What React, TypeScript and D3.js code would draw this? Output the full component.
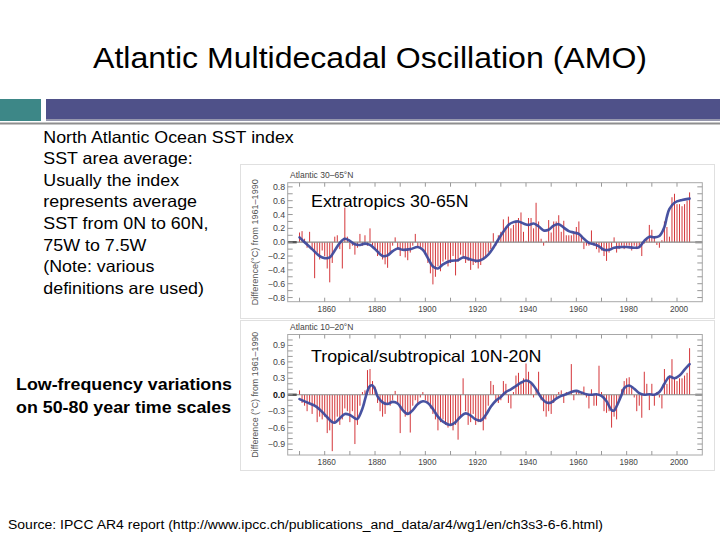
import React from 'react';
import * as d3 from 'd3';

// ---------- data ----------
const startYear = 1850;
const endYear = 2005;

// Atlantic 30-65N annual anomalies (°C, from 1961-1990), 1850..2005
const extraValues = [
  0.14, 0.16, 0.05, -0.08, 0.15, -0.1, -0.52, -0.15, -0.25, -0.12,
  -0.2, -0.38, -0.58, -0.3, 0.08, 0.1, -0.1, -0.38, 0.5, 0.08,
  -0.1, -0.05, -0.18, -0.08, 0.12, -0.05, 0.1, -0.05, 0.2, -0.05,
  -0.1, -0.2, -0.15, -0.25, -0.32, -0.37, -0.15, -0.05, 0.07, -0.1,
  -0.2, -0.12, -0.22, -0.26, -0.15, -0.05, 0.12, -0.08, -0.1, -0.08,
  -0.18, -0.3, -0.45, -0.61, -0.5, -0.35, -0.42, -0.28, -0.25, -0.35,
  -0.3, -0.2, -0.48, -0.28, -0.18, -0.22, -0.3, -0.27, -0.4, -0.33,
  -0.3, -0.38, -0.33, -0.25, -0.2, -0.15, -0.1, 0.13, -0.05, 0.1,
  0.15, 0.33, 0.22, 0.37, 0.2, 0.25, 0.3, 0.35, 0.43, 0.15,
  0.02, 0.35, 0.35, 0.2, 0.57, 0.3, 0.05, -0.05, 0.02, 0.32,
  0.14, 0.3, 0.3, 0.39, 0.15, 0.31, 0.1, 0.1, 0.1, 0.15,
  0.22, 0.3, 0.1, -0.1, -0.05, -0.05, 0.17, -0.05, -0.1, -0.15,
  -0.12, -0.2, -0.27, -0.15, -0.08, 0.07, -0.15, -0.1, -0.05, -0.1,
  -0.05, -0.05, -0.12, -0.05, -0.1, -0.08, -0.2, -0.02, 0.05, 0.25,
  0.18, 0.08, -0.04, -0.08, 0.03, 0.3, 0.22, 0.08, 0.65, 0.7,
  0.55, 0.55, 0.52, 0.55, 0.6, 0.72,
];

// Atlantic 10-20N annual anomalies, 1850..2005
const tropValues = [
  0.08, -0.15, -0.2, -0.3, -0.15, -0.35, -0.2, -0.5, -0.4, -0.45,
  -0.4, -0.7, -0.65, -1.03, -0.5, -0.4, -0.55, -0.45, -0.25, -0.3,
  -0.5, -0.3, -0.9, -0.55, -0.2, 0.05, 0.08, 0.45, 0.47, 0.25,
  0.15, -0.15, -0.3, -0.4, -0.35, -0.15, -0.2, -0.1, 0.07, -0.15,
  -0.7, -0.3, -0.4, -0.35, -0.69, -0.2, -0.1, -0.15, -0.05, 0.05,
  -0.1, -0.15, -0.25, -0.35, -0.45, -0.65, -0.5, -0.45, -0.55, -0.6,
  -0.55, -0.65, -0.55, -0.82, -0.4, 0.3, -0.3, -0.55, -0.5, -0.35,
  -0.55, -0.5, -0.5, -0.65, -0.45, -0.2, 0.25, 0.18, -0.1, -0.15,
  -0.1, 0.25, 0.2, -0.15, -0.25, 0.05, 0.35, 0.4, 0.2, 0.3,
  0.57, 0.42, 0.2, -0.05, 0.1, 0.42, -0.1, -0.3, -0.4, -0.3,
  -0.35, -0.15, -0.05, 0.05, 0.08, -0.15, 0.05, 0.02, 0.56, -0.1,
  0.05, 0.05, 0.05, 0.15, -0.05, -0.25, 0.1, -0.2, -0.2, 0.53,
  0.05, -0.3, -0.33, -0.3, -0.6, -0.4, -0.45, -0.1, 0.1, 0.25,
  0.3, 0.32, 0.15, -0.05, -0.3, -0.2, -0.42, 0.42, 0.2, -0.28,
  0.2, -0.2, 0.05, -0.05, -0.25, 0.47, 0.2, 0.35, 0.65, 0.3,
  0.25, 0.3, 0.3, 0.35, 0.4, 0.85,
];

// decadal smoothed curves
const extraSmoothYears = [
  1850, 1852, 1855, 1858, 1860, 1862, 1864, 1866, 1868, 1870, 1872, 1874, 1876, 1878,
  1880, 1883, 1885, 1887, 1889, 1891, 1894, 1897, 1899, 1901, 1903, 1905, 1907, 1910,
  1913, 1915, 1918, 1921, 1923, 1925, 1927, 1929, 1931, 1933, 1935, 1937, 1939, 1941,
  1943, 1945, 1947, 1949, 1951, 1953, 1955, 1957, 1959, 1961, 1963, 1965, 1967, 1969,
  1971, 1973, 1975, 1978, 1980, 1983, 1985, 1987, 1989, 1991, 1993, 1995, 1996, 1997,
  1999, 2002, 2005,
];
const extraSmoothValues = [
  0.07, 0.0, -0.1, -0.2, -0.23, -0.22, -0.12, -0.01, 0.05, 0.02, -0.03, -0.04, -0.02, -0.04,
  -0.1, -0.2, -0.19, -0.13, -0.09, -0.11, -0.1, -0.07, -0.11, -0.23, -0.35, -0.38, -0.32, -0.27,
  -0.26, -0.22, -0.25, -0.27, -0.24, -0.18, -0.08, 0.04, 0.15, 0.25, 0.29, 0.3, 0.27, 0.25,
  0.27, 0.23, 0.17, 0.18, 0.24, 0.26, 0.21, 0.16, 0.14, 0.12, 0.05, -0.01, -0.03, -0.06,
  -0.11, -0.11, -0.08, -0.07, -0.07, -0.08, -0.07, 0.02, 0.08, 0.07, 0.09, 0.22, 0.37, 0.48,
  0.57, 0.61, 0.63,
];

const tropSmoothYears = [
  1850, 1853, 1856, 1858, 1861, 1863, 1864, 1866, 1868, 1870, 1872, 1873, 1875, 1876,
  1877, 1878, 1879, 1880, 1881, 1883, 1885, 1887, 1889, 1891, 1893, 1895, 1897, 1899,
  1901, 1903, 1905, 1907, 1910, 1912, 1914, 1916, 1918, 1920, 1922, 1924, 1926, 1928,
  1930, 1932, 1934, 1936, 1938, 1940, 1942, 1944, 1946, 1948, 1950, 1952, 1954, 1956,
  1958, 1960, 1962, 1964, 1966, 1968, 1970, 1972, 1974, 1975, 1976, 1978, 1979, 1981,
  1983, 1985, 1987, 1989, 1991, 1993, 1995, 1997, 1999, 2001, 2003, 2005,
];
const tropSmoothValues = [
  -0.08, -0.14, -0.2, -0.27, -0.41, -0.5, -0.51, -0.43, -0.35, -0.37, -0.43, -0.44, -0.25, -0.09,
  0.07, 0.16, 0.17, 0.1, -0.03, -0.14, -0.17, -0.13, -0.16, -0.28, -0.35, -0.28, -0.17, -0.12,
  -0.15, -0.26, -0.4, -0.49, -0.55, -0.5, -0.4, -0.34, -0.38, -0.45, -0.47, -0.37, -0.22, -0.11,
  -0.04, 0.05, 0.1, 0.16, 0.22, 0.26, 0.22, 0.1, -0.05, -0.14, -0.14, -0.07, -0.02, 0.01,
  0.05, 0.07, 0.04, 0.01, 0.0, 0.01, -0.02, -0.12, -0.28, -0.29, -0.21, 0.0, 0.12, 0.17,
  0.11, 0.03, 0.0, 0.01, 0.0, 0.05, 0.2, 0.33, 0.3, 0.35, 0.46, 0.56,
];

const extraYTicks = [0.8, 0.6, 0.4, 0.2, 0.0, -0.2, -0.4, -0.6, -0.8];
const tropYTicks = [0.9, 0.6, 0.3, 0.0, -0.3, -0.6, -0.9];
const xTickLabels = [1860, 1880, 1900, 1920, 1940, 1960, 1980, 2000];

const titleText = 'Atlantic Multidecadal Oscillation (AMO)';
const bulletLines = [
  'North Atlantic Ocean SST index',
  'SST area average:',
  'Usually the index',
  'represents average',
  'SST from 0N to 60N,',
  '75W to 7.5W',
  '(Note: various',
  'definitions are used)',
];
const boldLines = ['Low-frequency variations', 'on 50-80 year time scales'];
const sourceText =
  'Source: IPCC AR4 report (http://www.ipcc.ch/publications_and_data/ar4/wg1/en/ch3s3-6-6.html)';

// ---------- layout ----------
const FONT = "'Liberation Sans', Arial, Helvetica, sans-serif";
const SX = 1.095; // horizontal stretch of the slide text

const years = d3.range(startYear, endYear + 1);
const x = d3.scaleLinear().domain([1860, 2000]).range([324.7, 677]);
const plotLeft = 287.7;
const plotRight = 702.3;

type PanelProps = {
  values: number[];
  smoothYears: number[];
  smoothValues: number[];
  yDomain: [number, number];
  yRange: [number, number];
  yTicks: number[];
  minorStep: number;
  minorMax: number;
  title: string;
  yTitle: string;
  boldZero: boolean;
  label: string;
  labelY: number;
  frame: [number, number];
};

function Panel(p: PanelProps) {
  const y = d3.scaleLinear().domain(p.yDomain).range(p.yRange);
  const top = p.yRange[1];
  const bottom = p.yRange[0];
  const y0 = y(0);
  const line = d3
    .line<number>()
    .x((_, i) => x(p.smoothYears[i]))
    .y((d) => y(d))
    .curve(d3.curveCatmullRom.alpha(0.5));
  const minor = d3.range(-p.minorMax, p.minorMax + 1e-9, p.minorStep);
  const xTicks = d3.range(1850, 2001, 10);
  return (
    <g>
      <rect x={240.5} y={p.frame[0]} width={474} height={p.frame[1] - p.frame[0]} fill="#fff" stroke="#e0e0e0" />
      <text x={290} y={top - 5} fontSize={8.5} fill="#444" fontFamily={FONT}>
        {p.title}
      </text>
      <text
        transform={`translate(258,${(top + bottom) / 2}) rotate(-90)`}
        textAnchor="middle"
        fontSize={8.3}
        fill="#555"
        fontFamily={FONT}
        textLength={126}
        lengthAdjust="spacingAndGlyphs"
      >
        {p.yTitle}
      </text>
      {/* bars */}
      {p.values.map((v, i) => {
        const yy = y(v);
        return (
          <rect
            key={i}
            x={x(years[i]) - 0.5}
            width={1}
            y={Math.min(yy, y0)}
            height={Math.abs(yy - y0)}
            fill="#d4363a"
          />
        );
      })}
      {/* zero line */}
      <line x1={plotLeft} x2={plotRight} y1={y0} y2={y0} stroke="#8a8a8a" strokeWidth={1.2} />
      <line x1={plotLeft} x2={plotLeft + 9} y1={y0} y2={y0} stroke="#555" strokeWidth={2.4} />
      <line x1={plotRight - 7} x2={plotRight} y1={y0} y2={y0} stroke="#999" strokeWidth={2.4} />
      {/* smooth curve */}
      <path
        d={line(p.smoothValues) || ''}
        fill="none"
        stroke="#3e4a9c"
        strokeWidth={2.6}
        strokeLinejoin="round"
        strokeLinecap="round"
        opacity={0.95}
      />
      <rect x={plotLeft} y={top} width={plotRight - plotLeft} height={bottom - top} fill="none" stroke="#a8a8a8" strokeWidth={1} />
      {minor.map((t, i) => (
        <g key={'m' + i}>
          <line x1={plotLeft} x2={plotLeft + 5} y1={y(t)} y2={y(t)} stroke="#999" />
          <line x1={plotRight - 5} x2={plotRight} y1={y(t)} y2={y(t)} stroke="#999" />
        </g>
      ))}
      {xTicks.map((t) => (
        <g key={'x' + t}>
          <line x1={x(t)} x2={x(t)} y1={bottom} y2={bottom - 4} stroke="#999" />
          <line x1={x(t)} x2={x(t)} y1={top} y2={top + 4} stroke="#999" />
        </g>
      ))}
      {p.yTicks.map((t) => (
        <text
          key={'yl' + t}
          x={plotLeft - 2.5}
          y={y(t) + 3}
          textAnchor="end"
          fontSize={8.8}
          fill={t === 0 && p.boldZero ? '#111' : '#444'}
          fontWeight={t === 0 && p.boldZero ? 'bold' : 'normal'}
          fontFamily={FONT}
        >
          {t < 0 ? '\u2212' + d3.format('.1f')(-t) : d3.format('.1f')(t)}
        </text>
      ))}
      {xTickLabels.map((t) => (
        <text key={'xl' + t} x={x(t) + 2} y={bottom + 10} textAnchor="middle" fontSize={8.2} fill="#444" fontFamily={FONT}>
          {t}
        </text>
      ))}
      <text
        transform={`translate(311,${p.labelY}) scale(${SX},1)`}
        fontSize={16.3}
        fill="#000"
        fontFamily={FONT}
      >
        {p.label}
      </text>
    </g>
  );
}

export default function App() {
  return (
    <svg
      width={720}
      height={540}
      viewBox="0 0 720 540"
      style={{ position: 'absolute', left: 0, top: 0, background: '#fff' }}
    >
      <rect x={0} y={0} width={720} height={540} fill="#fff" />
      <text
        x={370}
        y={68}
        textAnchor="middle"
        fontSize={29}
        fontFamily={FONT}
        fill="#000"
        textLength={554}
        lengthAdjust="spacingAndGlyphs"
      >
        {titleText}
      </text>
      <rect x={0} y={99} width={41} height={22} fill="#3d8787" />
      <rect x={46} y={99} width={674} height={20} fill="#4f5189" />
      <rect x={46} y={119} width={674} height={2} fill="#9697ad" />
      <rect x={0} y={122.5} width={720} height={2} fill="#8e8e8e" />

      {bulletLines.map((s, i) => (
        <text
          key={i}
          transform={`translate(43.3,${142.5 + i * 21.6}) scale(${SX},1)`}
          fontSize={16.3}
          fontFamily={FONT}
          fill="#000"
        >
          {s}
        </text>
      ))}

      <Panel
        values={extraValues}
        smoothYears={extraSmoothYears}
        smoothValues={extraSmoothValues}
        yDomain={[-0.86, 0.86]}
        yRange={[301.7, 182.7]}
        yTicks={extraYTicks}
        minorStep={0.1}
        minorMax={0.8}
        title="Atlantic 30–65°N"
        yTitle="Difference(°C) from 1961–1990"
        boldZero={false}
        label="Extratropics 30-65N"
        labelY={207}
        frame={[164.5, 318.5]}
      />
      <Panel
        values={tropValues}
        smoothYears={tropSmoothYears}
        smoothValues={tropSmoothValues}
        yDomain={[-1.1, 1.1]}
        yRange={[455, 334.5]}
        yTicks={tropYTicks}
        minorStep={0.1}
        minorMax={1.0}
        title="Atlantic 10–20°N"
        yTitle="Difference (°C) from 1961–1990"
        boldZero={true}
        label="Tropical/subtropical 10N-20N"
        labelY={362}
        frame={[320.5, 470.5]}
      />

      {boldLines.map((s, i) => (
        <text
          key={'b' + i}
          transform={`translate(16,${390 + i * 22.5}) scale(${SX},1)`}
          fontSize={16.3}
          fontWeight="bold"
          fontFamily={FONT}
          fill="#000"
        >
          {s}
        </text>
      ))}

      <text
        x={8}
        y={529}
        fontSize={12.5}
        fontFamily={FONT}
        fill="#000"
        textLength={595}
        lengthAdjust="spacingAndGlyphs"
      >
        {sourceText}
      </text>
    </svg>
  );
}
